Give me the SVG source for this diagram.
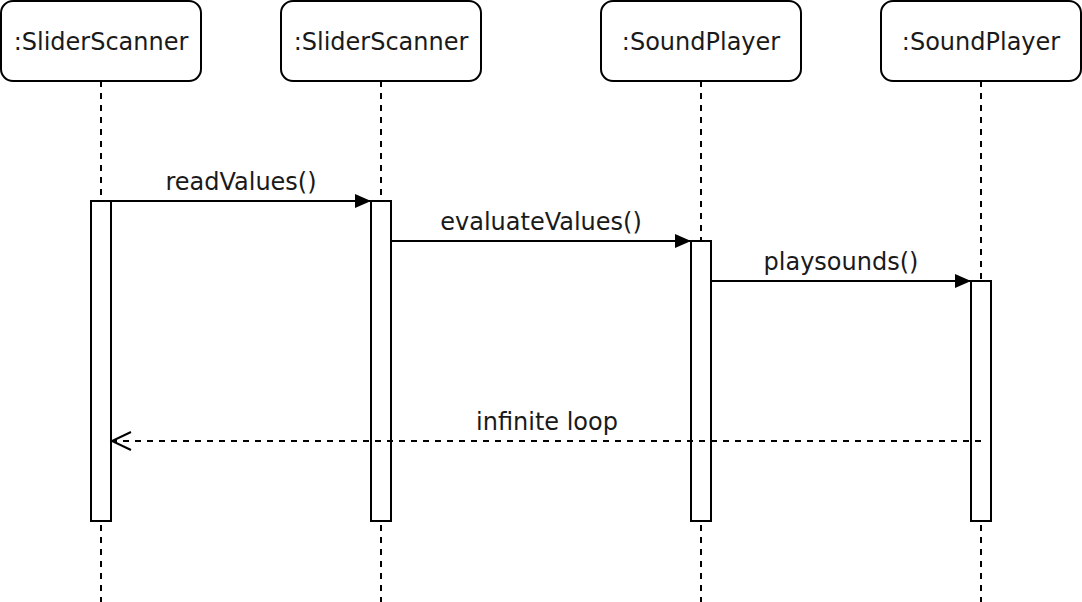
<svg xmlns="http://www.w3.org/2000/svg" width="1082" height="602" viewBox="0 0 1082 602">
<style>
.box{fill:#fff;stroke:#000;stroke-width:2}
.life{stroke:#000;stroke-width:2;stroke-dasharray:6 6;fill:none}
.act{fill:#fff;stroke:#000;stroke-width:2}
.t{font-family:"DejaVu Sans",Verdana,sans-serif;font-size:24px;fill:#1a1a1a;text-anchor:middle}
.msg{stroke:#000;stroke-width:2;fill:none}
</style>
<defs>
<marker id="fill" markerUnits="userSpaceOnUse" markerWidth="18" markerHeight="16" refX="16" refY="8" orient="auto" viewBox="0 0 18 16">
<path d="M0,1 L16,8 L0,15 Z" fill="#000"/>
</marker>
<marker id="open" markerUnits="userSpaceOnUse" markerWidth="24" markerHeight="22" refX="21" refY="11" orient="auto" viewBox="0 0 24 22">
<path d="M2,2 L21,11 L2,20" fill="none" stroke="#000" stroke-width="2"/>
</marker>
</defs>
<g id="lifelines">
<line class="life" x1="101" y1="81" x2="101" y2="602"/>
<line class="life" x1="381" y1="81" x2="381" y2="602"/>
<line class="life" x1="701" y1="81" x2="701" y2="602"/>
<line class="life" x1="981" y1="81" x2="981" y2="602"/>
</g>
<g id="node1"><rect class="box" x="1" y="1" width="200" height="80" rx="12"/><text class="t" x="101" y="50">:SliderScanner</text></g>
<g id="node2"><rect class="box" x="281" y="1" width="200" height="80" rx="12"/><text class="t" x="381" y="50">:SliderScanner</text></g>
<g id="node3"><rect class="box" x="601" y="1" width="200" height="80" rx="12"/><text class="t" x="701" y="50">:SoundPlayer</text></g>
<g id="node4"><rect class="box" x="881" y="1" width="200" height="80" rx="12"/><text class="t" x="981" y="50">:SoundPlayer</text></g>
<g id="act1"><rect class="act" x="91" y="201" width="20" height="320"/></g>
<g id="act2"><rect class="act" x="371" y="201" width="20" height="320"/></g>
<g id="act3"><rect class="act" x="691" y="241" width="20" height="280"/></g>
<g id="act4"><rect class="act" x="971" y="281" width="20" height="240"/></g>
<g id="connectors">
<line class="msg" x1="111" y1="201" x2="371" y2="201" marker-end="url(#fill)"/>
<text class="t" x="241" y="190">readValues()</text>
<line class="msg" x1="391" y1="241" x2="691" y2="241" marker-end="url(#fill)"/>
<text class="t" x="541" y="230">evaluateValues()</text>
<line class="msg" x1="711" y1="281" x2="971" y2="281" marker-end="url(#fill)"/>
<text class="t" x="841" y="270">playsounds()</text>
<line class="msg" x1="981" y1="441" x2="112" y2="441" stroke-dasharray="6 6" marker-end="url(#open)"/>
<text class="t" x="547" y="430">infinite loop</text>
</g>
</svg>
